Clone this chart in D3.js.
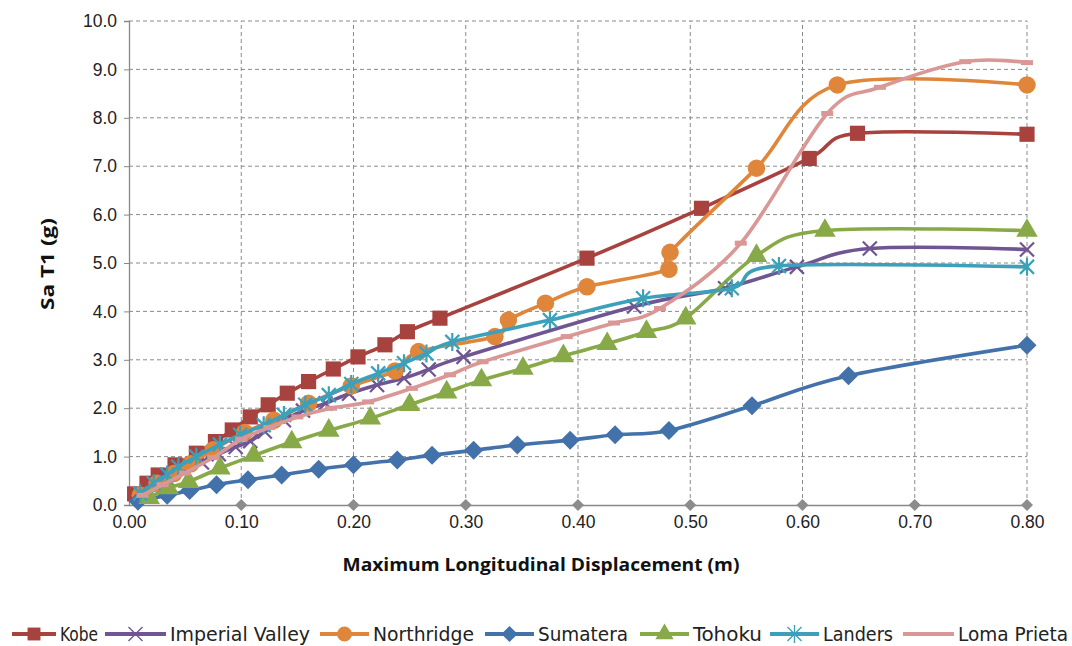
<!DOCTYPE html>
<html>
<head>
<meta charset="utf-8">
<script src="https://cdn.jsdelivr.net/npm/d3@7"></script>
<style>
  body { margin: 0; background: #fff; }
  svg { display: block; }
</style>
</head>
<body>
<svg id="chart" width="1072" height="646"></svg>
<script>
// series data: x = displacement (m), y = Sa T1 (g)
var kobeX = [0.005, 0.016, 0.026, 0.041, 0.060, 0.077, 0.092, 0.108, 0.124, 0.141, 0.160, 0.182, 0.204, 0.228, 0.248, 0.277, 0.408, 0.510, 0.606, 0.649, 0.800];
var kobeY = [0.23, 0.45, 0.62, 0.83, 1.07, 1.31, 1.55, 1.82, 2.07, 2.31, 2.55, 2.81, 3.06, 3.31, 3.58, 3.86, 5.10, 6.13, 7.16, 7.68, 7.66];

var imperialX = [0.012, 0.022, 0.035, 0.050, 0.065, 0.080, 0.095, 0.108, 0.121, 0.138, 0.155, 0.175, 0.196, 0.221, 0.245, 0.267, 0.298, 0.450, 0.531, 0.595, 0.660, 0.800];
var imperialY = [0.20, 0.35, 0.52, 0.70, 0.88, 1.05, 1.20, 1.32, 1.52, 1.75, 1.95, 2.10, 2.30, 2.48, 2.62, 2.80, 3.06, 4.10, 4.48, 4.92, 5.30, 5.28];

var northridgeX = [0.010, 0.025, 0.040, 0.055, 0.075, 0.103, 0.129, 0.160, 0.198, 0.237, 0.258, 0.326, 0.338, 0.371, 0.408, 0.481, 0.482, 0.559, 0.631, 0.800];
var northridgeY = [0.20, 0.45, 0.65, 0.85, 1.14, 1.50, 1.75, 2.10, 2.46, 2.77, 3.17, 3.48, 3.82, 4.17, 4.51, 4.87, 5.22, 6.96, 8.68, 8.68];

var sumateraX = [0.008, 0.034, 0.054, 0.078, 0.106, 0.136, 0.169, 0.200, 0.239, 0.270, 0.307, 0.346, 0.393, 0.433, 0.481, 0.555, 0.641, 0.800];
var sumateraY = [0.08, 0.20, 0.30, 0.42, 0.52, 0.62, 0.74, 0.83, 0.93, 1.03, 1.13, 1.24, 1.34, 1.45, 1.54, 2.05, 2.67, 3.30];

var tohokuX = [0.018, 0.035, 0.053, 0.081, 0.111, 0.145, 0.178, 0.215, 0.250, 0.283, 0.314, 0.351, 0.387, 0.426, 0.461, 0.496, 0.559, 0.620, 0.800];
var tohokuY = [0.15, 0.35, 0.48, 0.76, 1.02, 1.30, 1.54, 1.79, 2.07, 2.33, 2.58, 2.82, 3.08, 3.33, 3.58, 3.86, 5.15, 5.67, 5.67];

var landersX = [0.010, 0.022, 0.034, 0.044, 0.060, 0.081, 0.099, 0.120, 0.138, 0.157, 0.178, 0.198, 0.222, 0.245, 0.265, 0.288, 0.375, 0.458, 0.537, 0.579, 0.800];
var landersY = [0.24, 0.45, 0.63, 0.79, 1.00, 1.25, 1.45, 1.65, 1.86, 2.07, 2.27, 2.50, 2.72, 2.93, 3.13, 3.37, 3.82, 4.27, 4.48, 4.94, 4.92];

var lomaX = [0.012, 0.030, 0.050, 0.075, 0.100, 0.125, 0.150, 0.180, 0.213, 0.252, 0.286, 0.315, 0.390, 0.432, 0.473, 0.545, 0.622, 0.669, 0.745, 0.800];
var lomaY = [0.20, 0.42, 0.66, 0.98, 1.36, 1.60, 1.82, 2.00, 2.13, 2.41, 2.69, 2.96, 3.48, 3.76, 4.06, 5.41, 8.09, 8.63, 9.16, 9.14];

// grey diamonds sitting on the x axis
var baseX = [0.1, 0.2, 0.3, 0.4, 0.5, 0.6, 0.7, 0.8];

var xTicks = [0, 0.1, 0.2, 0.3, 0.4, 0.5, 0.6, 0.7, 0.8];
var yTicks = [0, 1, 2, 3, 4, 5, 6, 7, 8, 9, 10];

var seriesNames = ["Kobe", "Imperial Valley", "Northridge", "Sumatera", "Tohoku", "Landers", "Loma Prieta"];

var series = [
    {name: seriesNames[0], x: kobeX, y: kobeY, color: "#A8423F", marker: "square"},
    {name: seriesNames[1], x: imperialX, y: imperialY, color: "#705593", marker: "x"},
    {name: seriesNames[2], x: northridgeX, y: northridgeY, color: "#E0863B", marker: "circle"},
    {name: seriesNames[3], x: sumateraX, y: sumateraY, color: "#4371AA", marker: "diamond"},
    {name: seriesNames[4], x: tohokuX, y: tohokuY, color: "#87A947", marker: "triangle"},
    {name: seriesNames[5], x: landersX, y: landersY, color: "#3DA0BA", marker: "star"},
    {name: seriesNames[6], x: lomaX, y: lomaY, color: "#D99795", marker: "dash"}
];

var svg = d3.select("#chart");

var x = d3.scaleLinear().domain([0, 0.8]).range([129, 1027]);
var y = d3.scaleLinear().domain([0, 10]).range([505, 21]);

//格線
var grid = svg.append("g");
grid.selectAll("line.h")
    .data(yTicks.filter(function(d) { return d > 0; }))
    .enter().append("line")
    .attr("x1", x(0)).attr("x2", x(0.8))
    .attr("y1", function(d) { return y(d); })
    .attr("y2", function(d) { return y(d); })
    .attr("stroke", "#8a8a8a").attr("stroke-width", 1)
    .attr("stroke-dasharray", "4,3");
grid.selectAll("line.v")
    .data(xTicks.filter(function(d) { return d > 0; }))
    .enter().append("line")
    .attr("x1", function(d) { return x(d); })
    .attr("x2", function(d) { return x(d); })
    .attr("y1", y(0)).attr("y2", y(10))
    .attr("stroke", "#8a8a8a").attr("stroke-width", 1)
    .attr("stroke-dasharray", "4,3");

//軸
var yAxis = d3.axisLeft(y).tickValues(yTicks).tickFormat(d3.format(".1f")).tickSizeOuter(0).tickSize(5).tickPadding(7);
var gy = svg.append("g").attr("transform", "translate(" + x(0) + ",0)").call(yAxis);
var xAxis = d3.axisBottom(x).tickValues(xTicks).tickFormat(d3.format(".2f")).tickSizeOuter(0).tickSize(0).tickPadding(11);
var gx = svg.append("g").attr("transform", "translate(0," + y(0) + ")").call(xAxis);

[gx, gy].forEach(function(g) {
    g.select(".domain").attr("stroke", "#888").attr("stroke-width", 1.3);
    g.selectAll(".tick line").attr("stroke", "#888");
    g.selectAll(".tick text")
        .attr("fill", "#222")
        .style("font-family", "Liberation Sans, Arial, sans-serif")
        .style("font-size", "17.5px");
});

function diamondPath(r) {
    return "M0," + (-r) + "L" + r + ",0L0," + r + "L" + (-r) + ",0Z";
}

// grey diamonds on the axis
svg.append("g").selectAll("path")
    .data(baseX)
    .enter().append("path")
    .attr("d", diamondPath(6))
    .attr("transform", function(d) { return "translate(" + x(d) + "," + y(0) + ")"; })
    .attr("fill", "#8c8c8c");

//標記
function markerPath(type, k) {
    k = k || 1;
    if (type == "square") return d3.symbol().type(d3.symbolSquare).size(230 * k * k)();
    if (type == "circle") return d3.symbol().type(d3.symbolCircle).size(240 * k * k)();
    if (type == "diamond") return diamondPath(9.5 * k);
    if (type == "triangle") return d3.symbol().type(d3.symbolTriangle).size(200 * k * k)();
    if (type == "x") return "M-7,-7L7,7M-7,7L7,-7";
    if (type == "star") return "M-7,-7L7,7M-7,7L7,-7M0,-9L0,9";
    if (type == "dash") return "M-6,0L6,0";
    return "";
}
function isStroked(type) {
    return type == "x" || type == "star" || type == "dash";
}

var line = d3.line()
    .x(function(d) { return x(d[0]); })
    .y(function(d) { return y(d[1]); })
    .curve(d3.curveCatmullRom.alpha(0));

var plot = svg.append("g");
series.forEach(function(s) {
    var pts = s.x.map(function(v, i) { return [v, s.y[i]]; });
    var g = plot.append("g");
    g.append("path")
        .datum(pts)
        .attr("d", line)
        .attr("fill", "none")
        .attr("stroke", s.color)
        .attr("stroke-width", 3.6)
        .attr("stroke-linejoin", "round")
        .attr("stroke-linecap", "round");
    g.selectAll("path.m")
        .data(pts)
        .enter().append("path")
        .attr("class", "m")
        .attr("d", markerPath(s.marker))
        .attr("transform", function(d) { return "translate(" + x(d[0]) + "," + y(d[1]) + ")"; })
        .attr("fill", isStroked(s.marker) ? "none" : s.color)
        .attr("stroke", isStroked(s.marker) ? s.color : "none")
        .attr("stroke-width", s.marker == "dash" ? 5 : 2.2);
});

//標題
svg.append("text")
    .attr("x", 541).attr("y", 571)
    .attr("text-anchor", "middle")
    .attr("fill", "#111")
    .attr("textLength", 397)
    .attr("lengthAdjust", "spacingAndGlyphs")
    .style("font-family", "Open Sans, DejaVu Sans, sans-serif")
    .style("font-weight", "bold")
    .style("font-size", "18px")
    .text("Maximum Longitudinal Displacement (m)");

svg.append("text")
    .attr("transform", "translate(54,264) rotate(-90)")
    .attr("text-anchor", "middle")
    .attr("fill", "#111")
    .attr("textLength", 92)
    .attr("lengthAdjust", "spacingAndGlyphs")
    .style("font-family", "Open Sans, DejaVu Sans, sans-serif")
    .style("font-weight", "bold")
    .style("font-size", "18px")
    .text("Sa T1 (g)");

//圖例
var legendPos = [[12, 60, 38], [105, 170, 140], [320, 373, 101], [485, 538, 90], [640, 693, 69], [770, 823, 70], [903, 958, 110]];
var legend = svg.append("g");
series.forEach(function(s, i) {
    var p = legendPos[i];
    var ly = 634;
    legend.append("line")
        .attr("x1", p[0]).attr("x2", p[1] - 4)
        .attr("y1", ly).attr("y2", ly)
        .attr("stroke", s.color).attr("stroke-width", 4);
    if (s.marker != "dash") {
        legend.append("path")
            .attr("d", markerPath(s.marker, 0.85))
            .attr("transform", "translate(" + ((p[0] + p[1] - 4) / 2) + "," + ly + ")")
            .attr("fill", isStroked(s.marker) ? "none" : s.color)
            .attr("stroke", isStroked(s.marker) ? s.color : "none")
            .attr("stroke-width", 1.4);
    }
    legend.append("text")
        .attr("x", p[1]).attr("y", ly + 7)
        .attr("fill", "#222")
        .attr("textLength", p[2])
        .attr("lengthAdjust", "spacingAndGlyphs")
        .style("font-family", "DejaVu Sans Condensed, Liberation Sans, sans-serif")
        .style("font-size", "19px")
        .text(s.name);
});
</script>
</body>
</html>
